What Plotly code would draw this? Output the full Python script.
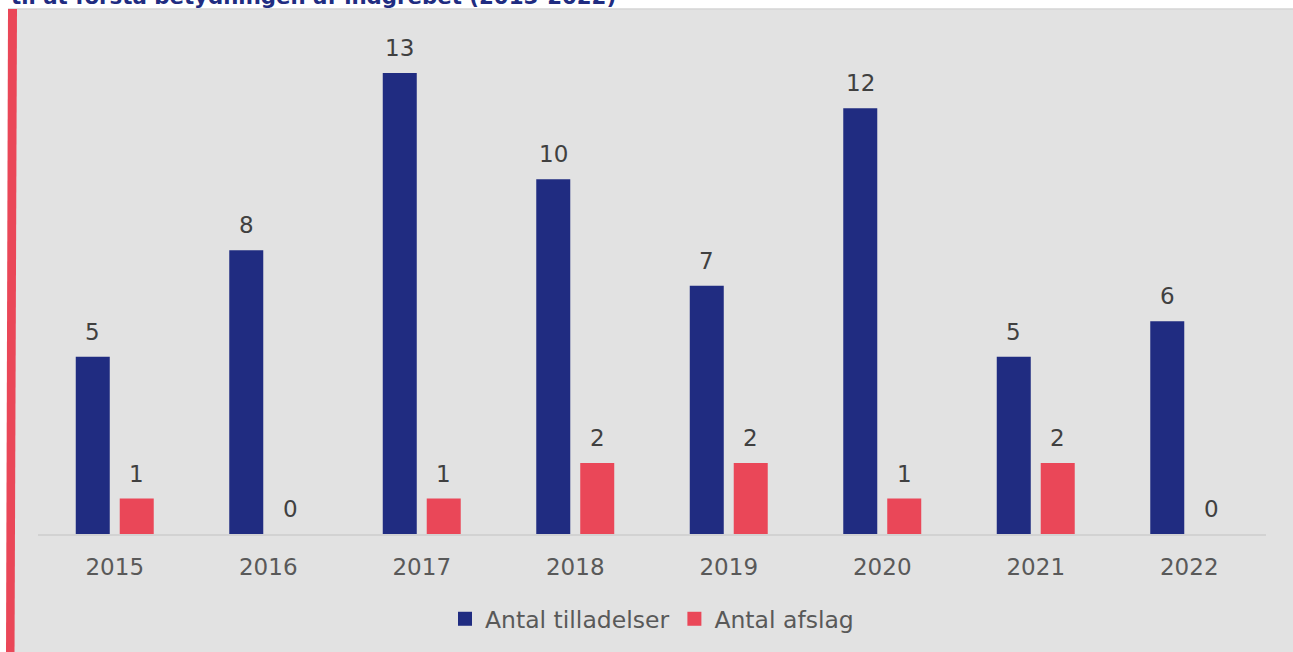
import plotly.graph_objects as go

# Data
years = ["2015", "2016", "2017", "2018", "2019", "2020", "2021", "2022"]
tilladelser = [5, 8, 13, 10, 7, 12, 5, 6]
afslag = [1, 0, 1, 2, 2, 1, 2, 0]
series_names = ["Antal tilladelser", "Antal afslag"]
title_text = "til at forstå betydningen af indgrebet (2015-2022)"

BLUE = "#202C81"
RED = "#EA4758"
BG = "#E2E2E2"
TXT = "#595959"
FONT = "DejaVu Sans"

W, H = 1293, 652
ML, MR, MT, MB = 38, 27, 20, 117
PW, PH = W - ML - MR, H - MT - MB

pos = list(range(len(years)))


def px_x(px):
    return (px - ML) / PW


def px_y(py):
    return (H - MB - py) / PH


fig = go.Figure()
for vals, name, color in ((tilladelser, series_names[0], BLUE), (afslag, series_names[1], RED)):
    fig.add_trace(go.Bar(x=pos, y=vals, name=name, legendgroup=name, showlegend=False,
                         marker=dict(color=color, line=dict(width=0))))
# square legend keys
for name, color in ((series_names[0], BLUE), (series_names[1], RED)):
    fig.add_trace(go.Scatter(x=[None], y=[None], mode="markers", name=name, legendgroup=name,
                             marker=dict(symbol="square", size=14, color=color)))

annotations = []
for vals, shift in ((tilladelser, -22), (afslag, 22)):
    for p, v in zip(pos, vals):
        annotations.append(dict(
            x=p, y=v, xref="x", yref="y", text=str(v), showarrow=False,
            xshift=shift, yshift=10, yanchor="bottom", xanchor="center",
            font=dict(family=FONT, size=23, color="#404040"),
        ))

annotations.append(dict(
    x=px_x(9), y=px_y(11), xref="paper", yref="paper", text="<b>" + title_text + "</b>",
    showarrow=False, xanchor="left", yanchor="bottom",
    font=dict(family=FONT, size=21.3, color=BLUE),
))

shapes = [
    # panel background
    dict(type="rect", xref="paper", yref="paper", x0=px_x(8), x1=px_x(W + 5),
         y0=px_y(9), y1=px_y(H + 5), fillcolor=BG, line=dict(width=0), layer="below"),
    dict(type="line", xref="paper", yref="paper", x0=px_x(8), x1=px_x(W + 5),
         y0=px_y(9), y1=px_y(9), line=dict(color="#D4D4D4", width=1.5), layer="below"),
    # red accent bar
    dict(type="path", xref="paper", yref="paper",
         path="M {a},{b} L {c},{b} L {d},{e} L {f},{e} Z".format(
             a=px_x(8), b=px_y(9), c=px_x(17), d=px_x(14.5), e=px_y(H + 5), f=px_x(6)),
         fillcolor=RED, line=dict(width=0), layer="above"),
]

fig.update_layout(
    width=W, height=H,
    margin=dict(l=ML, r=MR, t=MT, b=MB),
    paper_bgcolor="white",
    plot_bgcolor="rgba(0,0,0,0)",
    barmode="group",
    bargap=0.427,
    bargroupgap=0.227,
    font=dict(family=FONT, size=23, color=TXT),
    showlegend=True,
    legend=dict(orientation="h", x=0.5, xanchor="center", y=px_y(619), yanchor="middle",
                font=dict(family=FONT, size=23.5, color=TXT), bgcolor="rgba(0,0,0,0)",
                traceorder="normal", itemclick=False, itemdoubleclick=False),
    xaxis=dict(range=[-0.5, len(years) - 0.5], tickmode="array", tickvals=pos, ticktext=years,
               showline=True, linecolor="#D2D2D2", linewidth=1.5, showgrid=False,
               zeroline=False, ticks="", tickfont=dict(family=FONT, size=23, color=TXT),
               ticklabelstandoff=12),
    yaxis=dict(range=[0, PH / (462 / 13)], visible=False, showgrid=False, zeroline=False),
    annotations=annotations,
    shapes=shapes,
)

fig.write_html("out.html")
